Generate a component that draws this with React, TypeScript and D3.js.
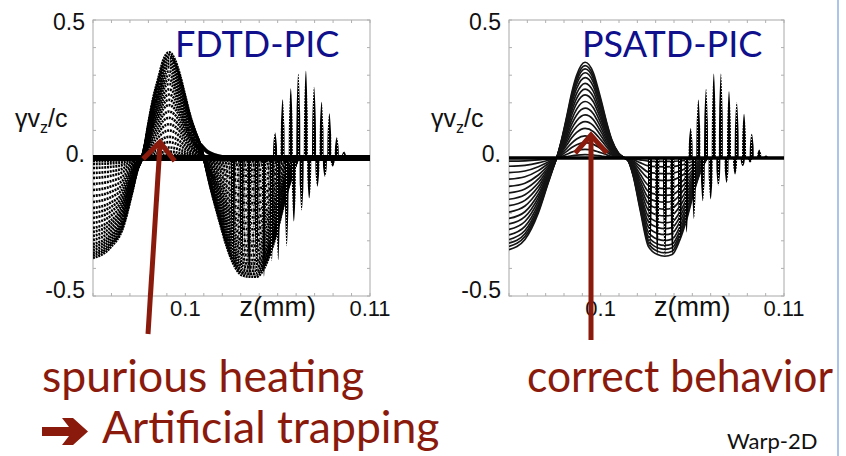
import React from 'react';
import * as d3 from 'd3';

const W = 846, H = 456;
const zDomain = [0.095, 0.11];
const zTicks = d3.range(0, 16).map(i => 0.095 + i * 0.001);
const vTicks = d3.range(0, 11).map(i => -0.5 + i * 0.1);
const vLabels = [['0.5', 0.5], ['0.', 0], ['-0.5', -0.5]];
const zLabels = [['0.1', 0.1], ['0.11', 0.11]];

// outermost curve of the wake, FDTD panel
const fdtdZ = [0.0950, 0.09592, 0.09664, 0.0971, 0.0974, 0.09765, 0.0978, 0.09799, 0.09826, 0.09854, 0.09881, 0.09912, 0.09944, 0.09971, 0.09998, 0.10025, 0.10052, 0.10085, 0.1010, 0.10134, 0.10188, 0.10224, 0.10258, 0.10305, 0.10346, 0.10386, 0.10426, 0.10468, 0.10503, 0.1054, 0.1058, 0.1061];
const fdtdV = [-0.362, -0.326, -0.249, -0.13, -0.045, 0, 0.045, 0.12, 0.216, 0.289, 0.355, 0.383, 0.355, 0.30, 0.228, 0.156, 0.10, 0.04, 0, -0.10, -0.236, -0.32, -0.38, -0.424, -0.43, -0.43, -0.40, -0.33, -0.25, -0.15, -0.06, 0];
const fdtdLevels = [1, 0.975, 0.95, 0.92, 0.89, 0.86, 0.82, 0.78, 0.74, 0.70, 0.65, 0.60, 0.55, 0.50, 0.44, 0.38, 0.32, 0.26, 0.20, 0.15, 0.10, 0.06, 0.03];
const fdtdTailZ = [0.1008, 0.1012, 0.1016, 0.1020, 0.1024];
const fdtdTailV = [0.05, 0.022, 0.01, 0.004, 0];
const fdtdPosZ = [0.10486, 0.10527, 0.10571, 0.10612, 0.10653, 0.10697, 0.10738, 0.10780, 0.10820, 0.10859, 0.1090];
const fdtdPosV = [0.092, 0.213, 0.253, 0.307, 0.316, 0.258, 0.204, 0.162, 0.075, 0.024, 0.008];
const fdtdNegZ = [0.10258, 0.10305, 0.10346, 0.10386, 0.10426, 0.10468, 0.10503, 0.10549, 0.10588, 0.10630, 0.10671, 0.10715, 0.10756, 0.10798, 0.10838];
const fdtdNegV = [-0.38, -0.424, -0.43, -0.43, -0.43, -0.374, -0.37, -0.32, -0.23, -0.19, -0.146, -0.104, -0.068, -0.031, -0.01];

// outermost curve of the wake, PSATD panel
const psatdZ = [0.0950, 0.09587, 0.0966, 0.09714, 0.09751, 0.0976, 0.09787, 0.09815, 0.09842, 0.09869, 0.09915, 0.0996, 0.09987, 0.10006, 0.10033, 0.1006, 0.10096, 0.1013, 0.1015, 0.10178, 0.10215, 0.1026, 0.1031, 0.1035, 0.1039, 0.1043, 0.1047, 0.1051, 0.1055, 0.1058];
const psatdV = [-0.332, -0.295, -0.199, -0.09, -0.017, 0, 0.067, 0.151, 0.236, 0.30, 0.347, 0.309, 0.248, 0.2, 0.128, 0.067, 0.019, 0, -0.01, -0.066, -0.187, -0.32, -0.35, -0.356, -0.35, -0.30, -0.22, -0.12, -0.04, 0];
const psatdLevels = [1, 0.965, 0.93, 0.89, 0.84, 0.78, 0.72, 0.66, 0.59, 0.52, 0.45, 0.38, 0.31, 0.23, 0.16, 0.09, 0.035];
const psatdPosZ = [0.10491, 0.10533, 0.10575, 0.10617, 0.10656, 0.10700, 0.10742, 0.10782, 0.10824, 0.10865, 0.10902];
const psatdPosV = [0.109, 0.212, 0.251, 0.306, 0.306, 0.242, 0.202, 0.160, 0.089, 0.031, 0.009];
const psatdNegZ = [0.10269, 0.10309, 0.10351, 0.10391, 0.10433, 0.10469, 0.10509, 0.10557, 0.10600, 0.10642, 0.10687, 0.10733, 0.10775, 0.10815];
const psatdNegV = [-0.325, -0.35, -0.356, -0.35, -0.30, -0.27, -0.22, -0.157, -0.15, -0.10, -0.09, -0.06, -0.03, -0.016];

const RED = '#8a1a0c';
const NAVY = '#10108c';
const AXIS_FONT = 'Liberation Sans, Arial, sans-serif';
const SLIDE_FONT = 'Lato, sans-serif';

const Panel = ({ id, left, right, z, v, levels, posZ, posV, negZ, negV, fdtd, tailZ, tailV, title, titleX }) => {
  const top = 20, bottom = 296;
  const x = d3.scaleLinear().domain(zDomain).range([left, right]);
  const y = d3.scaleLinear().domain([-0.5, 0.5]).range([bottom, top]);
  const line = d3.line<number[]>().x(d => x(d[0])).y(d => y(d[1])).curve(d3.curveMonotoneX);
  const needle = d3.line<number[]>().x(d => x(d[0])).y(d => y(d[1])).curve(d3.curveCardinal);
  const hw = 0.00011;
  const needlePath = (zc, vc) => needle([[zc - hw, 0], [zc - hw * 0.85, vc * 0.55], [zc, vc], [zc + hw * 0.85, vc * 0.55], [zc + hw, 0]]) + 'Z';
  const curves = levels.map(l => line(z.map((d, i) => [d, v[i] * l])));

  // the scattered cloud below zero in the FDTD run
  const cloudStart = z.findIndex((d, i) => i > 0 && v[i] < 0 && v[i - 1] >= 0 && d > 0.1);
  const cloud = fdtd ? line([[z[cloudStart - 1], 0], ...z.slice(cloudStart).map((d, i) => [d, v[cloudStart + i]])]) + 'Z' : null;

  return (
    <g>
      <clipPath id={id}>
        <rect x={left} y={top} width={right - left} height={bottom - top} />
      </clipPath>
      <rect x={left} y={top} width={right - left} height={bottom - top} fill="none" stroke="#a8a8a8" strokeWidth={1} />
      {zTicks.map((t, i) => (
        <g key={'zt' + i} stroke="#b0b0b0" strokeWidth={1}>
          <line x1={x(t)} x2={x(t)} y1={top} y2={top + 3} />
          <line x1={x(t)} x2={x(t)} y1={bottom} y2={bottom - 3} />
        </g>
      ))}
      {vTicks.map((t, i) => (
        <g key={'vt' + i} stroke="#b0b0b0" strokeWidth={1}>
          <line x1={left} x2={left + 3} y1={y(t)} y2={y(t)} />
          <line x1={right} x2={right - 3} y1={y(t)} y2={y(t)} />
        </g>
      ))}
      <g clipPath={`url(#${id})`}>
        {fdtd && <path d={cloud} fill="url(#cloud)" opacity={0.75} />}
        {curves.map((d, i) => (
          <path key={'c' + i} d={d} fill="none" stroke={fdtd ? '#000' : '#151515'}
            strokeWidth={fdtd ? 2.6 : 1.7} strokeDasharray={fdtd ? '2 0.8' : null} />
        ))}
        {tailZ && <path d={line(tailZ.map((d, i) => [d, tailV[i]]))} fill="none" stroke="#000" strokeWidth={4} />}
        {negZ.map((d, i) => <path key={'n' + i} d={needlePath(d, negV[i])} fill="url(#speck)" />)}
        {posZ.map((d, i) => <path key={'p' + i} d={needlePath(d, posV[i])} fill="url(#speck)" />)}
        <line x1={left} x2={right} y1={y(0)} y2={y(0)} stroke="#000" strokeWidth={fdtd ? 6 : 3.5} />
      </g>
      {vLabels.map(([s, val], i) => (
        <text key={'vl' + i} x={left - 8} y={y(val) + [10, 4, 2][i]} textAnchor="end"
          fontFamily={AXIS_FONT} fontSize={23} fill="#111">{s}</text>
      ))}
      {zLabels.map(([s, val], i) => (
        <text key={'zl' + i} x={x(val)} y={316} textAnchor="middle"
          fontFamily={AXIS_FONT} fontSize={22} fill="#111">{s}</text>
      ))}
      <text x={(x(0.1) + x(0.11)) / 2} y={316} textAnchor="middle" fontFamily={AXIS_FONT} fontSize={27} fill="#111">z(mm)</text>
      <text x={left - 78} y={127} fontFamily={AXIS_FONT} fontSize={25} fill="#111">
        <tspan>γv</tspan><tspan dy={6} fontSize={16}>z</tspan><tspan dy={-6}>/c</tspan>
      </text>
      <text x={titleX} y={57} fontFamily={SLIDE_FONT} fontSize={36} fill={NAVY}>{title}</text>
    </g>
  );
};

const Arrow = ({ x1, y1, x2, y2 }) => {
  const a = Math.atan2(y2 - y1, x2 - x1);
  const len = 24, spread = 0.72;
  const p1 = [x2 - len * Math.cos(a - spread), y2 - len * Math.sin(a - spread)];
  const p2 = [x2 - len * Math.cos(a + spread), y2 - len * Math.sin(a + spread)];
  return (
    <g stroke={RED} strokeWidth={5} fill="none" strokeLinecap="butt" strokeLinejoin="miter">
      <line x1={x1} y1={y1} x2={x2} y2={y2 + 2} />
      <polyline points={`${p1[0]},${p1[1]} ${x2},${y2} ${p2[0]},${p2[1]}`} />
    </g>
  );
};

export default function App() {
  return (
    <div style={{ position: 'absolute', left: 0, top: 0 }}>
      <svg width={W} height={H} style={{ display: 'block', background: '#fff' }}>
        <defs>
          <pattern id="speck" width={3} height={3} patternUnits="userSpaceOnUse">
            <rect width={3} height={3} fill="#000" />
            <circle cx={1.5} cy={1.5} r={0.55} fill="#fff" />
          </pattern>
          <pattern id="cloud" width={3} height={3} patternUnits="userSpaceOnUse">
            <circle cx={1.5} cy={1.5} r={1.0} fill="#000" />
          </pattern>
        </defs>
        <Panel id="clipL" left={93} right={370} z={fdtdZ} v={fdtdV} levels={fdtdLevels}
          posZ={fdtdPosZ} posV={fdtdPosV} negZ={fdtdNegZ} negV={fdtdNegV} fdtd
          tailZ={fdtdTailZ} tailV={fdtdTailV} title="FDTD-PIC" titleX={175} />
        <Panel id="clipR" left={509} right={784} z={psatdZ} v={psatdV} levels={psatdLevels}
          posZ={psatdPosZ} posV={psatdPosV} negZ={psatdNegZ} negV={psatdNegV} fdtd={false}
          tailZ={null} tailV={null} title="PSATD-PIC" titleX={582} />
        <Arrow x1={148} y1={334} x2={160} y2={142} />
        <Arrow x1={591} y1={340} x2={591} y2={135} />
        <text x={42} y={392} fontFamily={SLIDE_FONT} fontSize={44.5} fill={RED}>spurious heating</text>
        <path d="M42,427 L69,427 L62,418 L73,418 L88,431.5 L73,445 L62,445 L69,436 L42,436 Z" fill={RED} />
        <text x={102} y={443} fontFamily={SLIDE_FONT} fontSize={44.5} fill={RED}>Artificial trapping</text>
        <text x={527} y={392} fontFamily={SLIDE_FONT} fontSize={44.5} fill={RED}
          textLength={306} lengthAdjust="spacingAndGlyphs">correct behavior</text>
        <text x={727} y={449} fontFamily={SLIDE_FONT} fontSize={22} fill="#111">Warp-2D</text>
        <rect x={839} y={0} width={W - 839} height={H} fill="#fff" />
        <line x1={838} x2={838} y1={0} y2={H} stroke="#8fb0e6" strokeWidth={1.5} />
      </svg>
    </div>
  );
}
